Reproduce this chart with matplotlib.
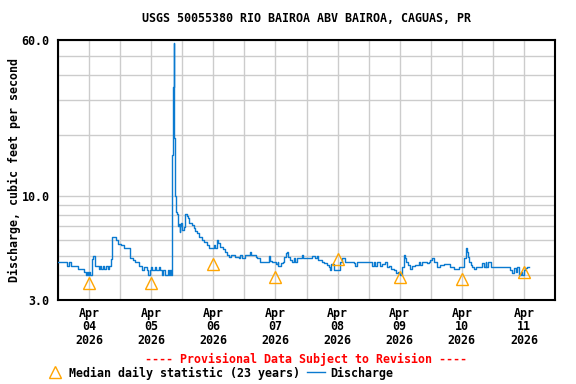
import matplotlib
matplotlib.use("Agg")
import matplotlib.pyplot as plt
from matplotlib.lines import Line2D

# hours after Apr 04 2026 00:00 where the 15-min discharge changes (cfs)
hrs = [0.0, 3.5, 4.2, 5.2, 7.6, 10.2, 10.8, 11.2, 11.6, 12.0, 12.4, 13.0, 13.4,
       14.4, 15.7, 16.3, 16.8, 17.3, 17.8, 18.6, 19.3, 19.8, 20.3, 20.8, 22.5,
       23.2, 24.5, 25.4, 27.7, 29.0, 29.7, 31.4, 32.3, 33.3, 34.2, 34.8, 35.5,
       36.0, 36.5, 37.5, 38.0, 39.0, 39.5, 40.0, 40.5, 41.3, 42.4, 42.8, 43.3,
       43.7, 44.0, 44.25, 44.5, 44.75, 45.0, 45.25, 45.5, 45.6, 45.75, 46.0,
       46.25, 46.5, 46.75, 47.0, 47.25, 47.5, 48.0, 48.5, 49.0, 49.2, 49.8,
       50.2, 50.6, 51.7, 52.4, 53.0, 53.7, 54.3, 55.6, 56.3, 57.5, 58.2, 60.2,
       60.5, 61.0, 61.4, 61.7, 62.7, 63.6, 64.6, 65.3, 66.2, 67.0, 68.5, 69.8,
       70.4, 71.1, 72.4, 74.1, 74.4, 76.3, 76.9, 78.2, 81.7, 82.0, 82.6, 84.3,
       84.8, 85.0, 86.1, 86.8, 87.4, 87.9, 88.4, 88.8, 89.7, 90.4, 91.0, 91.6,
       92.3, 94.2, 94.8, 98.1, 99.4, 100.0, 100.6, 101.9, 102.6, 103.9, 104.5,
       104.9, 105.4, 106.7, 108.8, 109.7, 111.0, 114.2, 114.7, 115.5, 121.3,
       121.9, 122.6, 123.2, 124.3, 125.2, 126.5, 127.1, 128.0, 128.5, 129.7,
       130.7, 131.2, 131.6, 132.3, 132.9, 133.5, 134.1, 134.5, 135.2, 136.1,
       136.8, 138.1, 139.4, 140.0, 140.6, 142.6, 143.2, 143.9, 144.5, 145.2,
       146.5, 147.7, 149.0, 151.6, 152.9, 154.8, 156.4, 157.0, 157.5, 158.1,
       158.3, 158.7, 159.4, 160.0, 160.6, 161.3, 163.9, 164.5, 165.2, 165.5,
       166.1, 167.1, 174.8, 175.5, 176.1, 176.8, 177.4, 178.1, 178.7, 179.4,
       180.0, 180.6, 181.3, 181.9]
cfs = [4.63, 4.45, 4.63, 4.45, 4.28, 4.14, 4.0, 4.14, 4.0, 4.14, 4.0, 4.8, 5.0,
       4.45, 4.28, 4.45, 4.28, 4.45, 4.28, 4.45, 4.28, 4.45, 4.8, 6.2, 6.0,
       5.75, 5.65, 5.45, 4.85, 4.75, 4.63, 4.45, 4.22, 4.4, 4.22, 4.0, 4.22,
       4.4, 4.22, 4.4, 4.22, 4.4, 4.22, 4.0, 4.22, 4.0, 4.22, 4.0, 4.22,
       4.0, 16.0, 19.7, 35.0, 57.8, 19.5, 10.0, 8.5, 9.5, 8.3, 8.1,
       7.2, 7.0, 7.2, 6.6, 7.0, 7.3, 6.72, 6.98, 7.9, 8.08, 7.9,
       7.69, 7.31, 7.12, 6.86, 6.64, 6.47, 6.22, 6.0, 5.87, 5.65, 5.48, 5.65,
       5.48, 5.45, 6.0, 5.77, 5.54, 5.38, 5.22, 5.04, 4.95, 5.04, 4.95, 4.85,
       5.04, 4.85, 5.04, 5.22, 5.04, 4.95, 4.85, 4.67, 5.0, 4.7, 4.64, 4.53,
       4.64, 4.44, 4.58, 4.64, 4.95, 5.14, 5.22, 4.95, 4.75, 4.64, 4.85, 4.64,
       4.85, 5.04, 4.85, 5.0, 4.85, 5.0, 4.75, 4.64, 4.58, 4.49, 4.4,
       4.22, 4.53, 4.22, 4.67, 4.85, 4.64, 4.58, 4.44, 4.64, 4.44,
       4.64, 4.44, 4.64, 4.44, 4.53, 4.64, 4.4, 4.44, 4.3, 4.22,
       4.08, 4.15, 4.08, 4.0, 4.4, 5.04, 4.85, 4.64, 4.49, 4.28,
       4.44, 4.49, 4.64, 4.49, 4.64, 4.58, 4.64, 4.75, 4.85, 4.64,
       4.4, 4.49, 4.55, 4.4, 4.28, 4.4, 4.4, 4.85, 5.45, 5.22,
       4.95, 4.67, 4.49, 4.4, 4.28, 4.4, 4.58, 4.4, 4.64, 4.4,
       4.64, 4.4, 4.22, 4.08, 4.33, 4.15, 4.4, 4.0, 4.15, 4.0,
       4.22, 4.33, 4.4, 4.4]

# median daily statistic, plotted at noon of each day
days = ["04", "05", "06", "07", "08", "09", "10", "11"]
median_cfs = [3.63, 3.63, 4.53, 3.91, 4.83, 3.91, 3.83, 4.12]

mono = "DejaVu Sans Mono"
fs = 8.4

fig = plt.figure(figsize=(5.76, 3.84), dpi=100)
ax = fig.add_axes([58 / 576, 1 - 300 / 384, 497 / 576, 260 / 384])

ax.plot(hrs, cfs, drawstyle="steps-post", color="#0a7ad0", lw=1.0, zorder=3)
noon = [12 + 24 * i for i in range(len(days))]
ax.plot(noon, median_cfs, ls="none", marker="^", ms=8, mfc="none",
        mec="#ffa500", mew=1.0, zorder=4)

ax.set_yscale("log")
ax.set_ylim(3, 60)
ax.set_xlim(0, 192)

# grid lines at every integer cfs and each midnight, labels only at 3/10/60
ax.set_yticks([3, 10, 60])
ax.set_yticklabels(["3.0", "10.0", "60.0"])
ax.set_yticks([4, 5, 6, 7, 8, 9, 20, 30, 40, 50], minor=True)
ax.yaxis.set_minor_formatter(plt.NullFormatter())
ax.set_xticks(range(0, 193, 24))
ax.set_xticklabels([""] * 9)
ax.set_xticks(noon, minor=True)
ax.set_xticklabels(["Apr\n%s\n2026" % d for d in days], minor=True)

ax.grid(True, which="both", color="#cccccc", lw=1.0, zorder=0)
ax.tick_params(which="both", length=0)
ax.tick_params(axis="y", pad=6)
ax.tick_params(axis="x", which="minor", pad=5)
for lab in ax.get_xticklabels(minor=True) + ax.get_yticklabels():
    lab.set_fontfamily(mono)
    lab.set_fontweight("bold")
    lab.set_fontsize(fs)
    lab.set_linespacing(1.05)
for sp in ax.spines.values():
    sp.set_linewidth(1.5)
    sp.set_color("black")

ax.set_ylabel("Discharge, cubic feet per second", family=mono,
              weight="bold", size=fs, va="center")
ax.yaxis.set_label_coords((14 - 58) / 497, 0.5)

fig.text(0.532, 1 - 19 / 384, "USGS 50055380 RIO BAIROA ABV BAIROA, CAGUAS, PR",
         ha="center", va="center", family=mono, weight="bold", size=fs)
fig.text(0.532, 1 - 359 / 384, "---- Provisional Data Subject to Revision ----",
         ha="center", va="center", family=mono, weight="bold", size=fs,
         color="red")

handles = [Line2D([], [], ls="none", marker="^", ms=8, mfc="none",
                  mec="#ffa500", mew=1.0),
           Line2D([], [], color="#0a7ad0", lw=1.0)]
fig.legend(handles, ["Median daily statistic (23 years)", "Discharge"],
           loc="center left", bbox_to_anchor=(0.08, 1 - 373 / 384), ncol=2,
           frameon=False, handlelength=1.5, handletextpad=0.5,
           columnspacing=0.6, borderaxespad=0, borderpad=0,
           prop={"family": mono, "weight": "bold", "size": fs})

fig.savefig("out.png", dpi=100)
